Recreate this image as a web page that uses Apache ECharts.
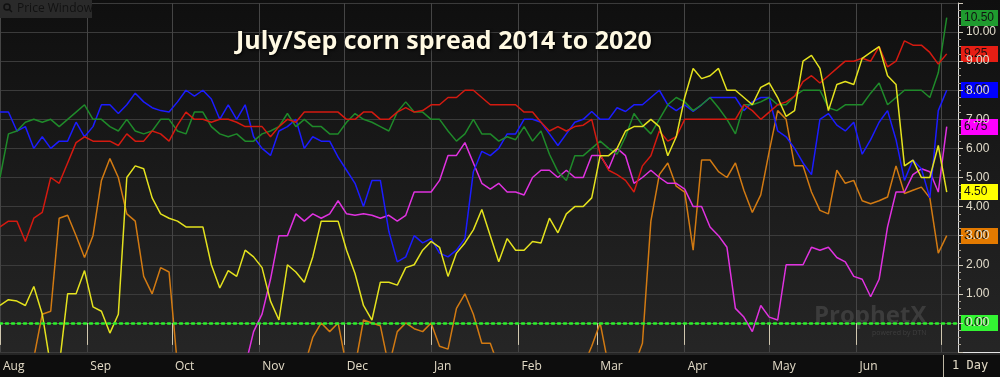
<!DOCTYPE html>
<html>
<head>
<meta charset="utf-8">
<title>July/Sep corn spread 2014 to 2020</title>
<script src="https://cdn.jsdelivr.net/npm/echarts@6/dist/echarts.min.js"></script>
<style>
  html, body { margin: 0; padding: 0; background: #111; }
  #chart { width: 1000px; height: 377px; }
</style>
</head>
<body>
<div id="chart"></div>
<script>
// one reading every 3 calendar days, starting Aug 1
const stepDays = 3
const monthNames = ['Jan', 'Feb', 'Mar', 'Apr', 'May', 'Jun', 'Jul', 'Aug', 'Sep', 'Oct', 'Nov', 'Dec']

const green = [
  5.0, 6.5, 6.6, 6.9, 7.0, 6.9, 7.0, 6.75, 7.0, 7.25,
  7.5, 7.0, 7.0, 6.75, 6.6, 7.0, 6.6, 6.5, 6.6, 7.0,
  7.0, 6.6, 6.5, 7.25, 7.25, 6.75, 6.5, 6.4, 6.5, 6.25,
  6.25, 6.5, 6.6, 6.75, 7.2, 6.75, 7.0, 6.75, 6.75, 6.5,
  6.5, 6.9, 7.2, 7.0, 6.9, 6.75, 6.6, 7.25, 7.6, 7.25,
  7.25, 7.0, 7.0, 6.6, 6.25, 6.5, 7.0, 6.5, 6.5, 6.25,
  6.4, 6.3, 6.75, 6.25, 6.6, 5.8, 5.2, 4.9, 5.75, 5.75,
  6.0, 6.25, 6.0, 5.8, 6.4, 7.2, 6.8, 6.5, 7.0, 7.5,
  7.75, 7.6, 7.3, 7.5, 7.75, 7.4, 7.0, 6.5, 7.5, 7.5,
  7.6, 7.75, 7.5, 7.5, 7.8, 8.0, 8.0, 8.0, 7.4, 7.3,
  7.5, 7.5, 7.5, 7.9, 8.25, 7.5, 7.75, 8.0, 8.0, 8.0,
  7.75, 8.6, 10.5
]
const red = [
  3.3, 3.5, 3.5, 2.8, 3.6, 3.8, 5.0, 4.8, 5.5, 6.2,
  6.4, 6.25, 6.25, 6.25, 6.1, 6.5, 6.25, 6.25, 6.6, 6.5,
  6.25, 6.8, 7.25, 7.0, 7.0, 6.9, 7.0, 7.0, 6.9, 6.75,
  6.75, 6.75, 6.4, 6.75, 7.0, 6.9, 7.25, 7.25, 7.25, 7.25,
  7.25, 7.0, 7.0, 7.25, 7.25, 7.0, 7.0, 7.25, 7.4, 7.25,
  7.3, 7.5, 7.5, 7.75, 7.75, 8.0, 8.0, 7.75, 7.5, 7.5,
  7.5, 7.5, 7.25, 7.25, 6.9, 6.6, 6.75, 6.6, 6.75, 6.8,
  7.0, 5.8, 5.25, 5.1, 4.9, 4.5, 5.4, 5.75, 6.6, 6.25,
  6.4, 7.0, 7.0, 7.0, 7.0, 7.0, 7.0, 7.0, 7.5, 7.3,
  7.0, 7.25, 7.5, 7.6, 7.8, 8.3, 8.5, 8.25, 8.5, 8.75,
  9.0, 9.0, 9.1, 9.0, 9.5, 8.8, 9.0, 9.7, 9.55, 9.55,
  9.3, 8.9, 9.25
]
const blue = [
  7.25, 7.25, 6.6, 6.75, 6.0, 6.4, 6.0, 6.25, 6.25, 6.9,
  6.4, 6.75, 7.5, 7.5, 7.2, 7.5, 7.9, 7.6, 7.4, 7.3,
  7.25, 7.6, 8.0, 7.8, 8.0, 7.7, 7.0, 7.5, 7.0, 7.5,
  6.4, 6.0, 5.76, 6.6, 6.75, 7.0, 6.0, 6.4, 6.25, 6.25,
  5.7, 5.25, 4.8, 4.0, 4.9, 4.9, 3.15, 2.1, 2.27, 3.0,
  2.75, 2.9, 2.4, 2.27, 2.5, 2.9, 5.2, 5.9, 5.75, 6.0,
  6.5, 6.5, 7.0, 7.0, 6.9, 6.5, 6.1, 6.5, 6.9, 7.0,
  7.27, 7.0, 7.0, 7.4, 7.27, 7.5, 7.5, 7.75, 8.0, 7.5,
  7.3, 7.5, 7.27, 7.5, 7.75, 7.75, 7.75, 7.75, 7.3, 7.6,
  7.75, 7.75, 6.6, 6.4, 6.0, 5.5, 5.1, 7.0, 7.2, 6.8,
  6.6, 6.9, 5.8, 6.3, 6.9, 7.3, 6.3, 4.9, 5.6, 5.3,
  4.3, 7.3, 8.0
]
const magenta = [
  -1.5, -1.5, -1.5, -1.5, -1.5, -1.5, -1.5, -1.5, -1.5, -1.5,
  -1.5, -1.5, -1.5, -1.5, -1.5, -1.5, -1.5, -1.5, -1.5, -1.5,
  -1.5, -1.5, -1.5, -1.5, -1.5, -1.5, -1.5, -1.5, -1.5, -1.5,
  -0.3, 0.3, 1.5, 3.0, 3.0, 3.75, 3.5, 3.75, 3.6, 3.75,
  4.2, 3.75, 3.7, 3.75, 3.7, 3.6, 3.7, 3.5, 3.7, 4.5,
  4.5, 4.5, 4.9, 5.76, 5.76, 6.2, 5.5, 4.8, 4.6, 4.8,
  4.5, 4.5, 4.4, 5.0, 5.25, 5.25, 5.0, 5.25, 5.0, 5.0,
  5.76, 5.76, 5.3, 6.0, 5.75, 4.8, 5.0, 5.25, 5.0, 4.8,
  4.8, 4.6, 4.0, 4.0, 3.3, 3.0, 2.6, 0.5, 0.2, -0.3,
  0.6, 0.2, 0.1, 2.0, 2.0, 2.0, 2.6, 2.5, 2.6, 2.25,
  2.1, 1.6, 1.5, 0.9, 1.5, 3.3, 4.5, 4.5, 5.1, 5.3,
  5.2, 4.5, 6.75
]
const yellow = [
  0.6, 0.8, 0.75, 0.6, 1.25, 0.3, -1.5, -1.5, 1.0, 1.0,
  1.8, 0.55, 0.4, -0.35, 0.3, 5.0, 5.4, 5.3, 4.3, 3.75,
  3.6, 3.5, 3.3, 3.3, 3.3, 2.0, 1.2, 1.8, 1.6, 2.5,
  2.27, 1.9, 0.75, 0.1, 2.0, 1.75, 1.4, 2.27, 3.5, 3.5,
  3.5, 2.5, 1.7, 0.6, 0.1, 1.4, 1.4, 1.3, 1.9, 2.0,
  2.5, 2.8, 2.6, 1.6, 2.4, 2.75, 3.2, 3.9, 3.0, 2.1,
  2.9, 2.5, 2.5, 2.8, 2.75, 3.6, 3.1, 3.75, 4.0, 4.0,
  4.3, 5.75, 5.75, 6.0, 6.6, 6.75, 6.75, 7.0, 6.75, 5.75,
  6.4, 7.75, 8.75, 8.4, 8.5, 8.75, 8.0, 8.0, 7.75, 7.5,
  8.1, 8.25, 7.75, 7.1, 7.3, 9.0, 9.2, 8.75, 7.3, 8.2,
  8.3, 8.2, 9.1, 9.3, 9.5, 8.5, 8.2, 5.4, 5.6, 5.0,
  5.0, 6.1, 4.5
]
const orange = [
  -1.5, -1.5, -1.5, -1.5, -1.2, 0.3, 0.4, 3.6, 3.7, 3.0,
  2.25, 3.0, 4.9, 5.65, 5.0, 3.75, 3.5, 1.6, 1.0, 1.9,
  1.75, -1.5, -1.5, -1.5, -1.5, -1.5, -1.5, -1.5, -1.5, -1.5,
  -1.5, -1.5, -1.5, -1.5, -1.5, -1.5, -1.5, -0.5, 0.0, -0.3,
  0.0, -1.5, -1.5, 0.1, 0.0, -0.1, -1.5, -0.3, 0.0, -0.2,
  -0.3, 0.0, -0.8, -0.9, 0.5, 1.0, 0.3, -0.7, -0.7, -1.5,
  -1.5, -1.5, -1.5, -1.5, -1.5, -1.5, -1.5, -1.5, -1.5, -1.5,
  -0.8, 0.0, -1.5, -1.5, -1.5, -1.5, -0.7, 3.5, 5.1, 5.5,
  4.7, 4.5, 2.5, 5.6, 5.6, 5.2, 5.0, 5.5, 4.56, 3.8,
  4.4, 5.9, 7.3, 7.0, 5.4, 5.4, 4.5, 3.87, 3.75, 5.25,
  4.8, 4.9, 4.2, 4.1, 4.2, 4.33, 5.4, 4.45, 4.56, 4.67,
  4.3, 2.4, 3.0
]

const dates = green.map((_, i) => new Date(2018, 7, 1 + i * stepDays).getTime())

const chart = echarts.init(document.getElementById('chart'))

const mkLine = (name, values, color) => ({
  name,
  type: 'line',
  data: values.map((v, i) => [dates[i], v]),
  showSymbol: false,
  symbol: 'none',
  clip: true,
  lineStyle: { color, width: 1.5 },
  itemStyle: { color },
  emphasis: { disabled: true },
})

const lineSeries = [
  mkLine('orange', orange, '#d27a12'),
  mkLine('magenta', magenta, '#e032e0'),
  mkLine('blue', blue, '#1c1cff'),
  mkLine('green', green, '#1f8a2a'),
  mkLine('red', red, '#d41a10'),
  mkLine('yellow', yellow, '#e4e21e'),
]
lineSeries[5].markLine = {
  silent: true,
  symbol: 'none',
  label: { show: false },
  lineStyle: { color: '#2cf02c', type: [2, 4], width: 2.5, cap: 'round' },
  data: [{ yAxis: 0 }],
}

const option = {
  animation: false,
  backgroundColor: new echarts.graphic.LinearGradient(0, 0, 0, 1, [
    { offset: 0, color: '#0f0f0f' },
    { offset: 1, color: '#272727' },
  ]),
  title: {
    text: 'July/Sep corn spread 2014 to 2020',
    left: 231,
    top: 24,
    textStyle: {
      color: '#fff9e2',
      fontSize: 25,
      fontWeight: 'bold',
      fontFamily: 'Open Sans',
      textShadowColor: '#000',
      textShadowBlur: 3,
      textShadowOffsetX: 1,
      textShadowOffsetY: 1,
    },
  },
  grid: { left: 0, right: 42, top: 3, bottom: 25 },
  xAxis: {
    type: 'time',
    min: dates[0],
    max: new Date(2018, 7, 1 + 340).getTime(),
    splitNumber: 11,
    maxInterval: 31 * 24 * 3600 * 1000,
    offset: 3,
    axisLine: { show: true, lineStyle: { color: '#6e6858', type: 'dotted' } },
    axisTick: { show: true, length: 22, lineStyle: { color: '#cfc6ae' } },
    axisLabel: {
      color: '#e2dac6',
      fontSize: 12,
      fontFamily: 'Open Sans',
      align: 'left',
      margin: 6,
      padding: [0, 0, 0, 3],
      formatter: (v) => {
        const m = new Date(v).getMonth()
        return m === 6 ? '' : monthNames[m]
      },
    },
    splitLine: { show: true, lineStyle: { color: '#454545' } },
  },
  yAxis: {
    type: 'value',
    position: 'right',
    min: -1,
    max: 11,
    interval: 1,
    axisLine: { show: true, lineStyle: { color: '#dedede' } },
    axisTick: { show: true, length: 5, lineStyle: { color: '#cfc8b8' } },
    minorTick: { show: true, splitNumber: 4, length: 3, lineStyle: { color: '#aaa293' } },
    axisLabel: {
      color: '#e2dccb',
      fontSize: 12,
      fontFamily: 'Liberation Sans',
      margin: 8,
      formatter: (v) => (v < 0 || v > 10 ? '' : v.toFixed(2)),
    },
    splitLine: { show: true, lineStyle: { color: '#3b3b3b' } },
  },
  series: lineSeries,
}

chart.setOption(option)

// last-value tags on the price axis
const tags = [
  { v: green[green.length - 1], bg: '#1f9b2f' },
  { v: red[red.length - 1], bg: '#e61e14' },
  { v: blue[blue.length - 1], bg: '#0000ff' },
  { v: magenta[magenta.length - 1], bg: '#ff00ff' },
  { v: yellow[yellow.length - 1], bg: '#ffff00' },
  { v: orange[orange.length - 1], bg: '#e37a00' },
  { v: 0, bg: '#33f433' },
]

const tagEls = tags.map((t) => {
  const y = chart.convertToPixel({ yAxisIndex: 0 }, t.v)
  return {
    type: 'group',
    z: 50,
    children: [
      { type: 'rect', shape: { x: 961, y: Math.round(y) - 8, width: 37, height: 16 }, style: { fill: t.bg } },
      {
        type: 'text',
        x: 964,
        y: Math.round(y),
        style: { text: t.v.toFixed(2), fill: '#111', font: '12px "Liberation Sans"', verticalAlign: 'middle' },
      },
    ],
  }
})

chart.setOption({
  graphic: [
    // date strip behind the month labels
    { type: 'rect', z: -1, shape: { x: 0, y: 355, width: 1000, height: 22 }, style: { fill: '#0d0d0d' } },
    { type: 'line', shape: { x1: 958.5, y1: 352.5, x2: 1000, y2: 352.5 }, style: { stroke: '#e6e6e6', lineWidth: 1 } },
    { type: 'line', shape: { x1: 943.5, y1: 355, x2: 943.5, y2: 377 }, style: { stroke: '#bdb6a4', lineWidth: 1 } },
    {
      type: 'text', x: 952, y: 366,
      style: { text: '1 Day', fill: '#e2dac6', font: '12px "DejaVu Sans Mono"', verticalAlign: 'middle' },
    },
    // "Price Window" tab
    { type: 'rect', shape: { x: 0, y: 0, width: 92, height: 18 }, style: { fill: '#2a2a2a' } },
    { type: 'circle', shape: { cx: 7, cy: 7, r: 3 }, style: { fill: 'none', stroke: '#101010', lineWidth: 1.5 } },
    { type: 'line', shape: { x1: 9, y1: 9, x2: 12, y2: 12 }, style: { stroke: '#101010', lineWidth: 1.5 } },
    {
      type: 'text', x: 17, y: 9,
      style: { text: 'Price Window', fill: '#121212', font: '12px "Open Sans"', verticalAlign: 'middle' },
    },
    // watermark
    {
      type: 'text', x: 814, y: 304,
      style: { text: 'ProphetX', fill: 'rgba(120,120,120,0.3)', font: 'bold 24px "Open Sans"' },
    },
    {
      type: 'text', x: 872, y: 329,
      style: { text: 'powered by DTN', fill: 'rgba(120,120,120,0.3)', font: '7px "Open Sans"' },
    },
    ...tagEls,
  ],
})
</script>
</body>
</html>
